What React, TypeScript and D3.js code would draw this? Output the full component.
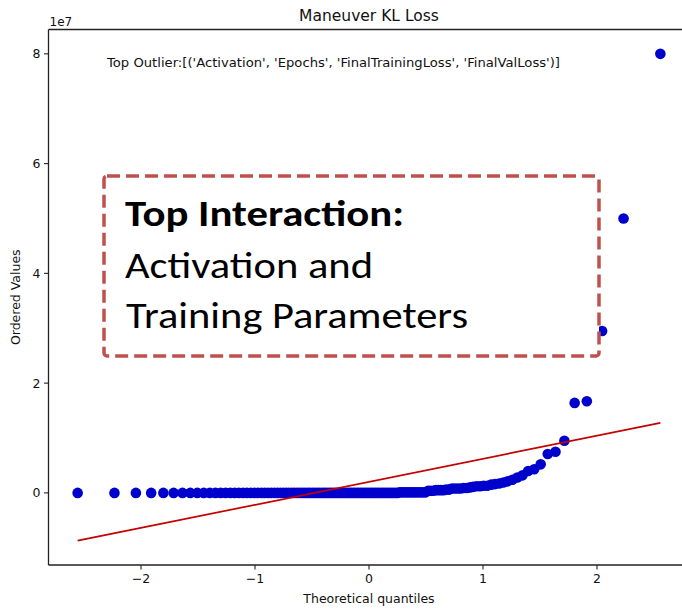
import React from "react";
import * as d3 from "d3";

// Theoretical normal quantiles (probability-plot positions), one per sample
const QUANTILES = [
  -2.556, -2.233, -2.045, -1.911, -1.804, -1.714, -1.636, -1.568, -1.506, -1.449,
  -1.396, -1.347, -1.301, -1.258, -1.217, -1.178, -1.141, -1.105, -1.071, -1.037,
  -1.005, -0.974, -0.943, -0.914, -0.886, -0.858, -0.831, -0.804, -0.778, -0.752,
  -0.727, -0.703, -0.678, -0.655, -0.631, -0.608, -0.585, -0.563, -0.540, -0.519,
  -0.497, -0.475, -0.454, -0.433, -0.412, -0.391, -0.371, -0.350, -0.330, -0.310,
  -0.290, -0.270, -0.251, -0.231, -0.212, -0.192, -0.173, -0.154, -0.134, -0.115,
  -0.096, -0.077, -0.057, -0.038, -0.019, 0.0, 0.019, 0.038, 0.057, 0.077,
  0.096, 0.115, 0.134, 0.154, 0.173, 0.192, 0.212, 0.231, 0.251, 0.270,
  0.290, 0.310, 0.330, 0.350, 0.371, 0.391, 0.412, 0.433, 0.454, 0.475,
  0.497, 0.519, 0.540, 0.563, 0.585, 0.608, 0.631, 0.655, 0.678, 0.703,
  0.727, 0.752, 0.778, 0.804, 0.831, 0.858, 0.886, 0.914, 0.943, 0.974,
  1.005, 1.037, 1.071, 1.105, 1.141, 1.178, 1.217, 1.258, 1.301, 1.347,
  1.396, 1.449, 1.506, 1.568, 1.636, 1.714, 1.804, 1.911, 2.045, 2.233,
  2.556,
];

// Ordered KL loss values, in units of 1e7
const ORDERED_VALUES = [
  0, 0, 0, 0, 0, 0, 0, 0, 0, 0,
  0, 0, 0, 0, 0, 0, 0, 0, 0, 0,
  0, 0, 0, 0, 0, 0, 0, 0, 0, 0,
  0, 0, 0, 0, 0, 0, 0, 0, 0, 0,
  0, 0, 0, 0, 0, 0, 0, 0, 0, 0,
  0, 0, 0, 0, 0, 0, 0, 0, 0, 0,
  0, 0, 0, 0, 0, 0, 0, 0, 0, 0,
  0, 0, 0, 0, 0, 0, 0, 0, 0, 0.01,
  0.01, 0.01, 0.01, 0.01, 0.01, 0.01, 0.01, 0.01, 0.01, 0.01,
  0.01, 0.04, 0.04, 0.04, 0.05, 0.05, 0.05, 0.05, 0.06, 0.06,
  0.08, 0.08, 0.08, 0.08, 0.09, 0.09, 0.10, 0.11, 0.12, 0.12,
  0.13, 0.13, 0.15, 0.16, 0.17, 0.19, 0.21, 0.24, 0.28, 0.32,
  0.40, 0.43, 0.52, 0.71, 0.75, 0.95, 1.64, 1.67, 2.95, 5.00,
  8.00,
];

const X_TICKS = [-2, -1, 0, 1, 2];
const Y_TICKS = [0, 2, 4, 6, 8];

const TITLE = "Maneuver KL Loss";
const OUTLIER_NOTE =
  "Top Outlier:[('Activation', 'Epochs', 'FinalTrainingLoss', 'FinalValLoss')]";
const BOX_HEADING = "Top Interaction:";
const BOX_LINES = ["Activation and", "Training Parameters"];

const W = 682;
const H = 611;
const plot = { left: 48.5, right: 689.5, top: 29.5, bottom: 565 };

export default function App() {
  const points = QUANTILES.map((q, i) => ({ q, v: ORDERED_VALUES[i] }));

  // least-squares fit of values on quantiles
  const qMean = d3.mean(QUANTILES) as number;
  const vMean = d3.mean(ORDERED_VALUES) as number;
  const sxy = d3.sum(points, (p) => (p.q - qMean) * (p.v - vMean));
  const sxx = d3.sum(points, (p) => (p.q - qMean) ** 2);
  const slope = sxy / sxx;
  const intercept = vMean - slope * qMean;

  const [qMin, qMax] = d3.extent(QUANTILES) as [number, number];
  const fitEnds = [qMin, qMax].map((q) => ({ q, v: intercept + slope * q }));

  const qPad = (qMax - qMin) * 0.05;
  const allV = [...ORDERED_VALUES, ...fitEnds.map((d) => d.v)];
  const [vMin, vMax] = d3.extent(allV) as [number, number];
  const vPad = (vMax - vMin) * 0.05;

  const x = d3
    .scaleLinear()
    .domain([qMin - qPad, qMax + qPad])
    .range([plot.left, plot.right]);
  const y = d3
    .scaleLinear()
    .domain([vMin - vPad, vMax + vPad])
    .range([plot.bottom, plot.top]);

  const fitLine = d3
    .line<{ q: number; v: number }>()
    .x((d) => x(d.q))
    .y((d) => y(d.v));

  const axisFont = "'DejaVu Sans', sans-serif";
  const boxFont = "Carlito, Calibri, Lato, sans-serif";

  return (
    <svg
      width={W}
      height={H}
      style={{ position: "absolute", left: 0, top: 0, background: "#fff" }}
    >
      <rect x={0} y={0} width={W} height={H} fill="#fff" />

      <text
        x={(plot.left + plot.right) / 2}
        y={21}
        textAnchor="middle"
        fontFamily={axisFont}
        fontSize={15.5}
        fill="#111"
      >
        {TITLE}
      </text>

      <text x={plot.left + 1} y={26} fontFamily={axisFont} fontSize={12} fill="#111">
        1e7
      </text>

      {/* points */}
      <g fill="#0000cc">
        {points.map((p, i) => (
          <circle key={i} cx={x(p.q)} cy={y(p.v)} r={5.3} />
        ))}
      </g>

      {/* fit line */}
      <path d={fitLine(fitEnds) as string} stroke="#c40000" strokeWidth={1.7} fill="none" />

      {/* spines */}
      <g stroke="#222" strokeWidth={1.3} fill="none">
        <line x1={plot.left} y1={plot.top} x2={plot.left} y2={plot.bottom} />
        <line x1={plot.left} y1={plot.bottom} x2={plot.right} y2={plot.bottom} />
        <line x1={plot.left} y1={plot.top} x2={plot.right} y2={plot.top} />
        <line x1={plot.right} y1={plot.top} x2={plot.right} y2={plot.bottom} />
      </g>

      {/* x axis ticks */}
      <g fontFamily={axisFont} fontSize={12.5} fill="#111">
        {X_TICKS.map((t) => (
          <g key={t}>
            <line
              x1={x(t)}
              x2={x(t)}
              y1={plot.bottom}
              y2={plot.bottom + 4.5}
              stroke="#222"
              strokeWidth={1.1}
            />
            <text x={x(t)} y={plot.bottom + 18} textAnchor="middle">
              {t < 0 ? `\u2212${Math.abs(t)}` : `${t}`}
            </text>
          </g>
        ))}
      </g>

      {/* y axis ticks */}
      <g fontFamily={axisFont} fontSize={12.5} fill="#111">
        {Y_TICKS.map((t) => (
          <g key={t}>
            <line
              x1={plot.left - 4.5}
              x2={plot.left}
              y1={y(t)}
              y2={y(t)}
              stroke="#222"
              strokeWidth={1.1}
            />
            <text x={plot.left - 8} y={y(t) + 4.5} textAnchor="end">
              {t}
            </text>
          </g>
        ))}
      </g>

      <text
        x={(plot.left + plot.right) / 2}
        y={603}
        textAnchor="middle"
        fontFamily={axisFont}
        fontSize={12.5}
        fill="#111"
      >
        Theoretical quantiles
      </text>
      <text
        transform={`translate(20, ${(plot.top + plot.bottom) / 2}) rotate(-90)`}
        textAnchor="middle"
        fontFamily={axisFont}
        fontSize={12.5}
        fill="#111"
      >
        Ordered Values
      </text>

      <text
        x={107}
        y={67}
        fontFamily={axisFont}
        fontSize={12.5}
        fill="#111"
        textLength={453}
        lengthAdjust="spacingAndGlyphs"
      >
        {OUTLIER_NOTE}
      </text>

      {/* annotation box */}
      <rect
        x={104}
        y={176}
        width={495}
        height={180}
        rx={3}
        fill="#fff"
        stroke="#c0504d"
        strokeWidth={3.5}
        strokeDasharray="13 6"
      />
      <text
        x={125}
        y={225.5}
        fontFamily={boxFont}
        fontWeight={700}
        fontSize={36}
        fill="#000"
        textLength={279}
        lengthAdjust="spacingAndGlyphs"
      >
        {BOX_HEADING}
      </text>
      <text
        x={125}
        y={278}
        fontFamily={boxFont}
        fontSize={36}
        fill="#000"
        textLength={248}
        lengthAdjust="spacingAndGlyphs"
      >
        {BOX_LINES[0]}
      </text>
      <text
        x={126}
        y={328}
        fontFamily={boxFont}
        fontSize={36}
        fill="#000"
        textLength={342}
        lengthAdjust="spacingAndGlyphs"
      >
        {BOX_LINES[1]}
      </text>
    </svg>
  );
}
